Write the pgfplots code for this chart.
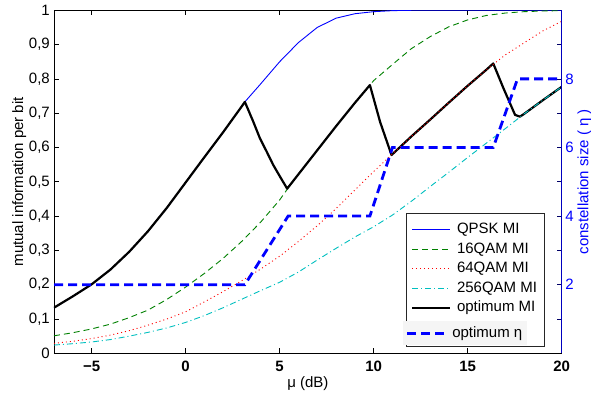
\documentclass[border=0pt]{standalone}
\usepackage{pgfplots}
\pgfplotsset{compat=1.18}
\usepackage{pgfplotstable}
\usepackage{fontspec}
\setmainfont{Liberation Sans}

\definecolor{mgreen}{rgb}{0,0.5,0}
\definecolor{mcyan}{rgb}{0,0.75,0.75}
\definecolor{mred}{rgb}{1,0,0}
\definecolor{mblue}{rgb}{0,0,1}

\pgfplotstableread{
x y
-7 0.133
-6 0.166
-5 0.201
-4 0.244
-3 0.296
-2 0.356
-1 0.424
0 0.498
1 0.572
2 0.645
3 0.721
3.15 0.733
4 0.786
5 0.850
6 0.906
7 0.950
8 0.977
9 0.990
10 0.996
11 0.999
12 1.000
20 1.000
}\qpsk

\pgfplotstableread{
x y
-7 0.051
-6 0.060
-5 0.071
-4 0.085
-3 0.104
-2 0.126
-1 0.157
0 0.193
1 0.233
2 0.277
3 0.327
4 0.383
5 0.447
5.4 0.478
6 0.522
7 0.592
8 0.662
9 0.730
9.8 0.782
10 0.795
11 0.842
12 0.888
13 0.923
14 0.952
15 0.972
16 0.985
17 0.992
18 0.996
19 0.998
20 0.999
}\qamsixteen

\pgfplotstableread{
x y
-7 0.029
-6 0.035
-5 0.043
-4 0.053
-3 0.066
-2 0.082
-1 0.100
0 0.121
1 0.150
2 0.180
3 0.212
4 0.246
5 0.283
6 0.326
7 0.372
8 0.422
9 0.476
10 0.530
11 0.581
12 0.632
13 0.681
14 0.731
15 0.780
16 0.827
17 0.870
18 0.905
19 0.940
20 0.968
}\qamsixtyfour

\pgfplotstableread{
x y
-7 0.024
-6 0.028
-5 0.033
-4 0.040
-3 0.050
-2 0.061
-1 0.074
0 0.090
1 0.110
2 0.133
3 0.158
4 0.183
5 0.207
6 0.237
7 0.272
8 0.306
9 0.339
10 0.369
11 0.403
12 0.443
13 0.486
14 0.528
15 0.571
16 0.613
17 0.655
18 0.698
19 0.738
20 0.777
}\qamtwofivesix

\pgfplotstableread{
x y
-7 0.133
-6 0.166
-5 0.201
-4 0.244
-3 0.296
-2 0.356
-1 0.424
0 0.498
1 0.572
2 0.645
3 0.721
3.15 0.733
3.6 0.675
3.95 0.627
4.31 0.588
4.66 0.549
5.02 0.515
5.4 0.480
6 0.522
7 0.592
8 0.662
9 0.730
9.8 0.782
10.34 0.675
10.95 0.578
12 0.632
13 0.681
14 0.731
15 0.780
16 0.827
16.36 0.845
16.9 0.773
17.52 0.695
17.78 0.690
18 0.698
19 0.738
20 0.777
}\optmi

\pgfplotstableread{
x y
-7 2
3.15 2
5.45 4
9.8 4
11.0 6
16.36 6
17.65 8
20 8
}\opteta

\begin{document}
\begin{tikzpicture}
\pgfplotsset{
  every axis/.append style={font=\fontsize{15bp}{18bp}\selectfont},
  mystyle/.style={
    scale only axis, width=507.7bp, height=343bp,
    xmin=-7, xmax=20,
    tick align=inside, major tick length=5bp,
    every tick/.style={line width=0.7bp},
    legend image code/.code={\draw[##1] (0bp,0bp) -- (38bp,0bp);},
    legend cell align=left,
  },
}
\begin{axis}[
  mystyle,
  ymin=0, ymax=1,
  axis line style={line width=0.9bp},
  xtick={-5,0,5,10,15,20}, xticklabels={−5,0,5,10,15,20},
  ytick={0,0.1,0.2,0.3,0.4,0.5,0.6,0.7,0.8,0.9,1},
  yticklabels={0,{0,1},{0,2},{0,3},{0,4},{0,5},{0,6},{0,7},{0,8},{0,9},1},
  ytick pos=left, xtick pos=both,
  xticklabel style={inner sep=0bp, yshift=-8bp, font=\fontsize{15bp}{18bp}\selectfont\bfseries},
  yticklabel style={inner sep=0bp, xshift=-4bp},
  xlabel={μ (dB)}, ylabel={mutual information per bit},
  xlabel style={at={(axis description cs:0.5,-0.0875)}, anchor=center, inner sep=0bp},
  ylabel style={at={(axis description cs:-0.0687,0.5)}, anchor=center, inner sep=0bp},
  legend style={at={(axis description cs:0.967,0.019)}, anchor=south east,
    draw=black!85, line width=0.8bp, fill=white, inner xsep=5bp, inner ysep=7bp,
    row sep=0bp, column sep=3.3bp,
    nodes={inner ysep=2.75bp, inner xsep=2.5bp, text height=11bp, text depth=3bp}},
]
\addlegendimage{draw=mblue, line width=1.2bp}
\addlegendentry{QPSK MI}
\addlegendimage{draw=mgreen, line width=1.2bp, dash pattern=on 6bp off 4bp}
\addlegendentry{16QAM MI}
\addlegendimage{draw=mred, line width=1.2bp, dash pattern=on 1bp off 3bp}
\addlegendentry{64QAM MI}
\addlegendimage{draw=mcyan, line width=1.2bp, dash pattern=on 6bp off 3bp on 1bp off 3bp}
\addlegendentry{256QAM MI}
\addlegendimage{draw=black, line width=2.2bp}
\addlegendentry{optimum MI}
\addlegendimage{empty legend}
\addlegendentry[text depth=5.4bp]{}

\addplot[mblue, line width=0.9bp, forget plot] table {\qpsk};
\addplot[mgreen, line width=0.9bp, dash pattern=on 6bp off 4bp, forget plot] table {\qamsixteen};
\addplot[black, line width=2.2bp, line join=round, forget plot] table {\optmi};
\addplot[mred, line width=0.9bp, dash pattern=on 1bp off 3bp, forget plot] table {\qamsixtyfour};
\addplot[mcyan, line width=0.9bp, dash pattern=on 6bp off 3bp on 1bp off 3bp, forget plot] table {\qamtwofivesix};
\end{axis}

\begin{axis}[
  mystyle,
  ymin=0, ymax=10,
  axis x line=none,
  axis y line*=right,
  axis line style={line width=0.9bp, blue!75!black},
  every tick/.style={line width=0.7bp, black!60!blue},
  ytick={1,2,3,4,5,6,7,8,9},
  yticklabels={,2,,4,,6,,8,},
  yticklabel style={inner sep=0bp, xshift=3.5bp, text=mblue},
  ylabel={constellation size ( η )},
  ylabel style={at={(axis description cs:1.045,0.5)}, anchor=center, inner sep=0bp, text=mblue},
  legend style={at={(axis description cs:0.6874,0.0242)}, anchor=south west,
    draw=none, fill=black!4, inner xsep=2.5bp, inner ysep=1.9bp,
    row sep=0bp, column sep=3.3bp,
    nodes={inner ysep=2.75bp, inner xsep=2.5bp, text height=11bp, text depth=3bp}},
]
\addplot[mblue, line width=2.8bp, dash pattern=on 9bp off 5bp] table {\opteta};
\addlegendentry{optimum η}
\end{axis}
\pgfresetboundingbox
\path[use as bounding box] (-54bp,-43.7bp) rectangle (537bp,353.3bp);
\end{tikzpicture}
\end{document}
